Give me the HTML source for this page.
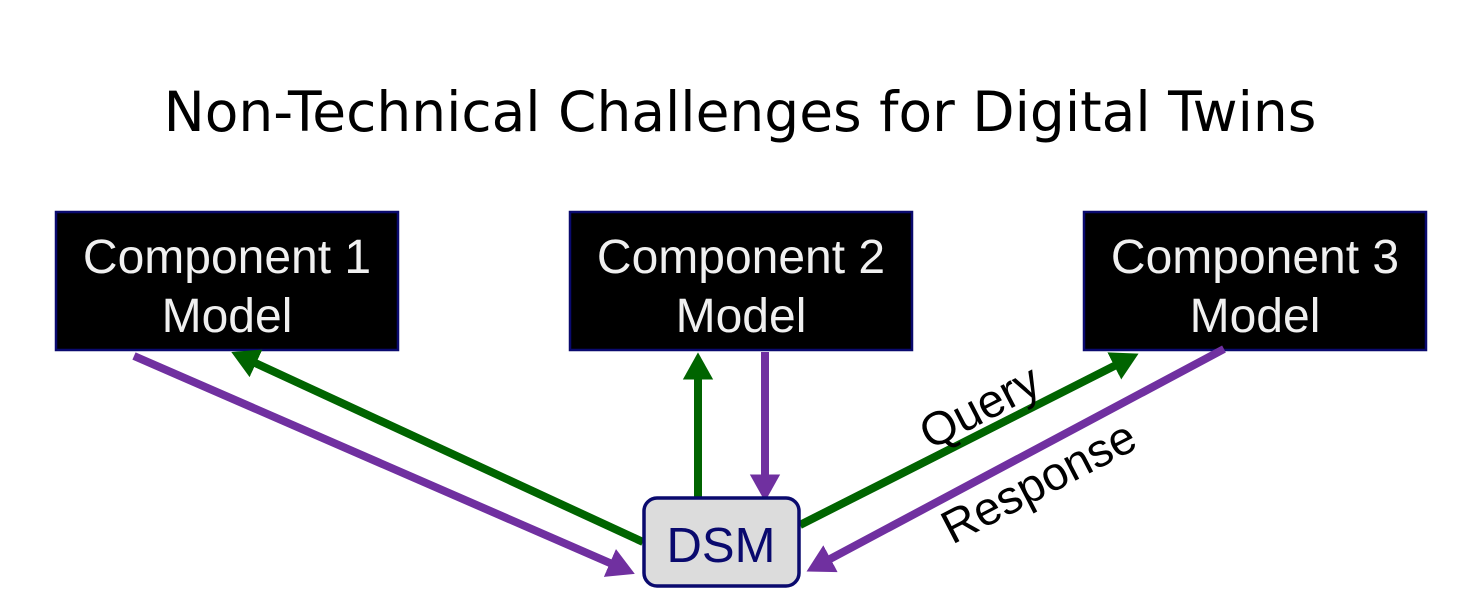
<!DOCTYPE html>
<html><head><meta charset="utf-8"><style>
html,body{margin:0;padding:0;background:#fff;width:1481px;height:600px;overflow:hidden}
</style></head><body>
<svg width="1481" height="600" xmlns="http://www.w3.org/2000/svg" font-family="Liberation Sans, sans-serif">
<defs>
<marker id="g" markerWidth="4" markerHeight="4" refX="2.2" refY="2" orient="auto" markerUnits="strokeWidth"><path d="M0,0.1 L3.4,2 L0,3.9 Z" fill="#006400"/></marker>
<marker id="p" markerWidth="4" markerHeight="4" refX="2.2" refY="2" orient="auto" markerUnits="strokeWidth"><path d="M0,0.1 L3.4,2 L0,3.9 Z" fill="#7030a0"/></marker>
</defs>
<text x="740" y="131" font-family="DejaVu Sans, sans-serif" font-size="55" text-anchor="middle" fill="#000">Non-Technical Challenges for Digital Twins</text>
<g stroke="#0a0a6e" stroke-width="2.5" fill="#000">
<rect x="56" y="212" width="342" height="138"/>
<rect x="570" y="212" width="342" height="138"/>
<rect x="1084" y="212" width="342" height="138"/>
</g>
<g fill="#f0f0f0" font-size="48" text-anchor="middle">
<text x="227" y="273">Component 1</text><text x="227" y="332">Model</text>
<text x="741" y="273">Component 2</text><text x="741" y="332">Model</text>
<text x="1255" y="273">Component 3</text><text x="1255" y="332">Model</text>
</g>
<g stroke-width="8" fill="none">
<line x1="134" y1="356" x2="626" y2="570" stroke="#7030a0" marker-end="url(#p)"/>
<line x1="643" y1="542" x2="240" y2="356" stroke="#006400" marker-end="url(#g)"/>
<line x1="698" y1="497" x2="698" y2="362" stroke="#006400" marker-end="url(#g)"/>
<line x1="765" y1="352" x2="765" y2="492" stroke="#7030a0" marker-end="url(#p)"/>
<line x1="800" y1="525" x2="1130" y2="358" stroke="#006400" marker-end="url(#g)"/>
<line x1="1224" y1="349" x2="815" y2="567" stroke="#7030a0" marker-end="url(#p)"/>
</g>
<rect x="644" y="498" width="155" height="88" rx="13" fill="#dcdcdc" stroke="#0a0a6e" stroke-width="3.5"/>
<text x="721" y="562" font-size="49" text-anchor="middle" fill="#0a0a6e">DSM</text>
<text x="0" y="0" font-size="47" text-anchor="middle" fill="#000" transform="translate(987,421) rotate(-27.5)">Query</text>
<text x="0" y="0" font-size="47" text-anchor="middle" fill="#000" transform="translate(1046,496) rotate(-27.5)">Response</text>
</svg>
</body></html>
